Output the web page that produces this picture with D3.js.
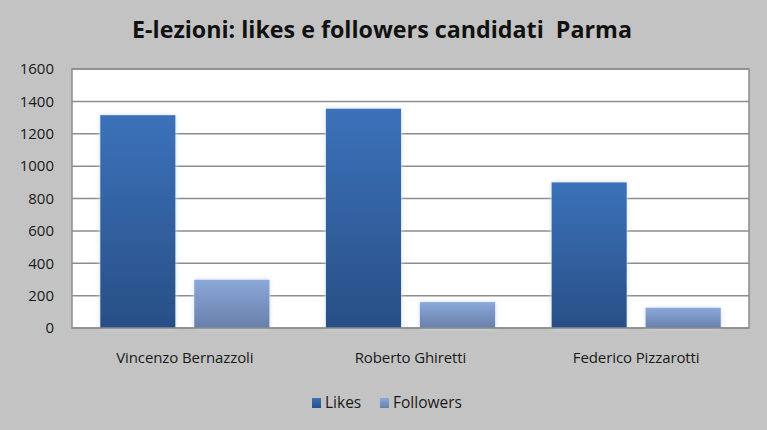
<!DOCTYPE html>
<html>
<head>
<meta charset="utf-8">
<script src="https://cdn.jsdelivr.net/npm/d3@7"></script>
<style>
  body { margin: 0; background: #c3c3c3; }
  svg { display: block; }
</style>
</head>
<body>
<div id="chart"></div>
<script>
// data
const candidates = ["Vincenzo Bernazzoli", "Roberto Ghiretti", "Federico Pizzarotti"];
const series = ["Likes", "Followers"];
const likes = [1315, 1355, 900];
const followers = [298, 160, 125];
const yTicks = [0, 200, 400, 600, 800, 1000, 1200, 1400, 1600];

const width = 767;
const height = 430;
const plot = {left: 72, right: 749, top: 69, bottom: 328};
const font = "'Open Sans', 'Liberation Sans', sans-serif";

const rows = candidates.map((c, i) => ({name: c, values: [likes[i], followers[i]]}));

const svg = d3.select("#chart")
  .append("svg")
  .attr("width", width)
  .attr("height", height);

svg.append("rect")
  .attr("width", width)
  .attr("height", height)
  .attr("fill", "#c3c3c3");

/////////////// gradients ///////////////
const defs = svg.append("defs");
const grads = [
  {id: "gLikes", top: "#3b72ba", bottom: "#284f86"},
  {id: "gFollowers", top: "#8ba8da", bottom: "#6880aa"}
];
grads.forEach(g => {
  const lg = defs.append("linearGradient")
    .attr("id", g.id)
    .attr("x1", 0).attr("y1", 0).attr("x2", 0).attr("y2", 1);
  lg.append("stop").attr("offset", "0%").attr("stop-color", g.top);
  lg.append("stop").attr("offset", "100%").attr("stop-color", g.bottom);
});
const glow = defs.append("filter").attr("id", "glow")
  .attr("x", "-20%").attr("y", "-10%").attr("width", "140%").attr("height", "120%");
glow.append("feGaussianBlur").attr("in", "SourceAlpha").attr("stdDeviation", 2.5).attr("result", "b");
glow.append("feFlood").attr("flood-color", "#cfe0f5").attr("result", "c");
glow.append("feComposite").attr("in", "c").attr("in2", "b").attr("operator", "in").attr("result", "s");
const fm = glow.append("feMerge");
fm.append("feMergeNode").attr("in", "s");
fm.append("feMergeNode").attr("in", "SourceGraphic");

/////////////// scales ///////////////
const y = d3.scaleLinear()
  .domain([0, 1600])
  .range([plot.bottom, plot.top]);

const x0 = d3.scaleBand()
  .domain(candidates)
  .range([plot.left, plot.right])
  .padding(0);

const x1 = d3.scaleBand()
  .domain(series)
  .range([0, x0.bandwidth()])
  .paddingInner(0.2)
  .paddingOuter(0.3);

const color = d3.scaleOrdinal()
  .domain(series)
  .range(["url(#gLikes)", "url(#gFollowers)"]);

// squeeze text to the width it has in the picture
const fitWidth = (sel, target) => {
  sel.each(function() {
    const t = d3.select(this);
    const fs = +t.attr("font-size");
    const w = this.getComputedTextLength();
    t.attr("font-size", fs * target / w);
  });
};

/////////////// plot area ///////////////
svg.append("rect")
  .attr("x", plot.left)
  .attr("y", plot.top)
  .attr("width", plot.right - plot.left)
  .attr("height", plot.bottom - plot.top)
  .attr("fill", "#ffffff")
  .attr("stroke", "#8c8c8c")
  .attr("stroke-width", 1.5);

svg.append("g")
  .selectAll("line")
  .data(yTicks.slice(1))
  .join("line")
    .attr("x1", plot.left)
    .attr("x2", plot.right)
    .attr("y1", d => y(d))
    .attr("y2", d => y(d))
    .attr("stroke", "#8c8c8c")
    .attr("stroke-width", 1.5);

const yAxis = svg.append("g")
  .attr("transform", `translate(${plot.left},0)`)
  .call(d3.axisLeft(y).tickValues(yTicks).tickFormat(d3.format("d")).tickSize(0).tickPadding(18));
yAxis.select(".domain").remove();
yAxis.selectAll("text")
  .attr("font-family", font)
  .attr("font-size", 15)
  .attr("fill", "#1a1a1a");

/////////////// bars ///////////////
svg.append("g")
  .selectAll("g")
  .data(rows)
  .join("g")
    .attr("transform", d => `translate(${x0(d.name)},0)`)
  .selectAll("rect")
  .data(d => d.values.map((v, i) => ({key: series[i], value: v})))
  .join("rect")
    .attr("x", d => x1(d.key))
    .attr("y", d => y(d.value))
    .attr("width", x1.bandwidth())
    .attr("height", d => y(0) - y(d.value))
    .attr("fill", d => color(d.key))
    .attr("filter", "url(#glow)");

svg.append("line")
  .attr("x1", plot.left).attr("x2", plot.right)
  .attr("y1", plot.bottom).attr("y2", plot.bottom)
  .attr("stroke", "#8c8c8c")
  .attr("stroke-width", 1.5);

/////////////// category labels ///////////////
svg.append("g")
  .selectAll("text")
  .data(candidates)
  .join("text")
    .attr("x", d => x0(d) + x0.bandwidth() / 2)
    .attr("y", 363)
    .attr("text-anchor", "middle")
    .attr("font-family", font)
    .attr("font-size", 15)
    .attr("letter-spacing", -0.1)
    .attr("fill", "#1a1a1a")
    .text(d => d);

/////////////// title ///////////////
const title = svg.append("text")
  .attr("x", 382)
  .attr("y", 38)
  .attr("text-anchor", "middle")
  .attr("font-family", font)
  .attr("font-weight", "bold")
  .attr("font-size", 22)
  .attr("fill", "#111")
  .style("white-space", "pre")
  .text("E-lezioni: likes e followers candidati  Parma");
fitWidth(title, 500);

/////////////// legend ///////////////
const legend = svg.append("g")
  .selectAll("g")
  .data(series)
  .join("g")
    .attr("transform", (d, i) => `translate(${[312, 380][i]},398)`);
legend.append("rect")
  .attr("width", 9).attr("height", 10)
  .attr("fill", d => color(d));
legend.append("text")
  .attr("x", 13)
  .attr("y", 10)
  .attr("font-family", font)
  .attr("font-size", 15.5)
  .attr("fill", "#1a1a1a")
  .text(d => d);
</script>
</body>
</html>
